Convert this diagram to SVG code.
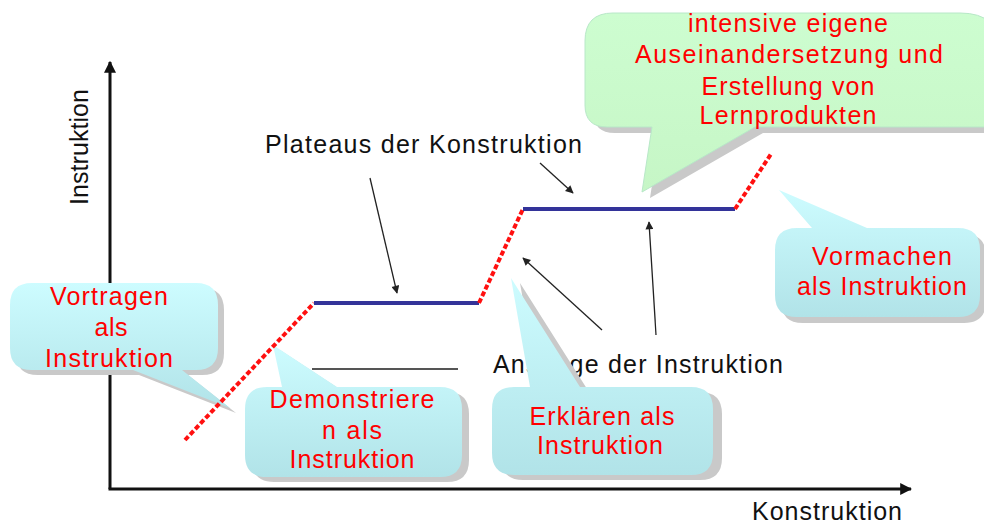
<svg xmlns="http://www.w3.org/2000/svg" width="984" height="524" viewBox="0 0 984 524">
<defs>
<linearGradient id="cyan" x1="0" y1="0" x2="0" y2="1">
<stop offset="0" stop-color="#cdfcff"/>
<stop offset="1" stop-color="#b1e3e8"/>
</linearGradient>
<linearGradient id="green" x1="0" y1="0" x2="0" y2="1">
<stop offset="0" stop-color="#cdfdd0"/>
<stop offset="1" stop-color="#c6f6c6"/>
</linearGradient>
<marker id="axisHead" viewBox="0 0 10 10" refX="9" refY="5" markerWidth="4" markerHeight="4" orient="auto" markerUnits="strokeWidth">
<path d="M0 0 L10 5 L0 10 Z" fill="#111"/>
</marker>
<marker id="arrowHead" viewBox="0 0 10 10" refX="9" refY="5" markerWidth="9" markerHeight="8" orient="auto" markerUnits="userSpaceOnUse">
<path d="M0 0 L10 5 L0 10 Z" fill="#222"/>
</marker>
<style>
.axis{stroke:#111;stroke-width:3;fill:none}
.arr{stroke:#222;stroke-width:1.3;fill:none}
.red{stroke:#ff1010;stroke-width:4;stroke-dasharray:5 2.5;fill:none}
.blue{stroke:#333399;stroke-width:4;fill:none}
.shadow{fill:#c9c9c9}
.cy{fill:url(#cyan)}
.gr{fill:url(#green)}
.lbl{font-family:"Liberation Sans",Arial,sans-serif;font-size:25px;fill:#111}
.rt{font-family:"Liberation Sans",Arial,sans-serif;font-size:25px;fill:#ff0000;text-anchor:middle}
</style>
</defs>
<rect width="984" height="524" fill="#ffffff"/>

<g id="axes">
<line class="axis" x1="110" y1="489" x2="110" y2="62" marker-end="url(#axisHead)"/>
<line class="axis" x1="108.5" y1="489" x2="911" y2="489" marker-end="url(#axisHead)"/>
<text class="lbl" transform="translate(88,205) rotate(-90)" textLength="116" lengthAdjust="spacing">Instruktion</text>
<text class="lbl" x="752" y="520" textLength="150" lengthAdjust="spacing">Konstruktion</text>
</g>

<g id="labels">
<text class="lbl" x="265" y="153" textLength="317" lengthAdjust="spacing">Plateaus der Konstruktion</text>
<text class="lbl" x="493" y="373" textLength="290" lengthAdjust="spacing">Anstiege der Instruktion</text>
<line x1="312" y1="369" x2="458" y2="369" stroke="#555" stroke-width="2"/>
</g>

<g id="connectors">
<line class="arr" x1="370" y1="178" x2="397" y2="293" marker-end="url(#arrowHead)"/>
<line class="arr" x1="540" y1="163" x2="573" y2="193" marker-end="url(#arrowHead)"/>
<line class="arr" x1="602" y1="330" x2="523" y2="258" marker-end="url(#arrowHead)"/>
<line class="arr" x1="656" y1="335" x2="649" y2="222" marker-end="url(#arrowHead)"/>
</g>

<g id="callout-vortragen">
<path class="shadow" transform="translate(6,5)" d="M32 283 H196 Q218 283 218 305 V348 Q218 370 196 370 H182 L230 408 L133 370 H32 Q10 370 10 348 V305 Q10 283 32 283 Z"/>
<path class="cy" d="M32 283 H196 Q218 283 218 305 V348 Q218 370 196 370 H182 L230 408 L133 370 H32 Q10 370 10 348 V305 Q10 283 32 283 Z"/>
<text class="rt" x="109" y="305" textLength="118" lengthAdjust="spacing">Vortragen</text>
<text class="rt" x="111" y="336" textLength="33" lengthAdjust="spacing">als</text>
<text class="rt" x="109" y="367" textLength="128" lengthAdjust="spacing">Instruktion</text>
</g>

<g id="callout-demonstrieren">
<path class="shadow" transform="translate(7,5)" d="M267 387 H282 L273 345 L337 387 H440 Q462 387 462 409 V455 Q462 477 440 477 H267 Q245 477 245 455 V409 Q245 387 267 387 Z"/>
<path class="cy" d="M267 387 H282 L273 345 L337 387 H440 Q462 387 462 409 V455 Q462 477 440 477 H267 Q245 477 245 455 V409 Q245 387 267 387 Z"/>
<text class="rt" x="352" y="408" textLength="165" lengthAdjust="spacing">Demonstriere</text>
<text class="rt" x="352" y="439" textLength="60" lengthAdjust="spacing">n als</text>
<text class="rt" x="352" y="468" textLength="125" lengthAdjust="spacing">Instruktion</text>
</g>

<g id="callout-erklaeren">
<path class="shadow" transform="translate(9,5)" d="M514 387 H530 L511 278 L580 387 H691 Q713 387 713 409 V453 Q713 475 691 475 H514 Q492 475 492 453 V409 Q492 387 514 387 Z"/>
<path class="cy" d="M514 387 H530 L511 278 L580 387 H691 Q713 387 713 409 V453 Q713 475 691 475 H514 Q492 475 492 453 V409 Q492 387 514 387 Z"/>
<text class="rt" x="602" y="425" textLength="145" lengthAdjust="spacing">Erklären als</text>
<text class="rt" x="600" y="454" textLength="126" lengthAdjust="spacing">Instruktion</text>
</g>

<g id="callout-vormachen">
<path class="shadow" transform="translate(6,6)" d="M797 228 H812 L779 190 L867 228 H958 Q980 228 980 250 V295 Q980 317 958 317 H797 Q775 317 775 295 V250 Q775 228 797 228 Z"/>
<path class="cy" d="M797 228 H812 L779 190 L867 228 H958 Q980 228 980 250 V295 Q980 317 958 317 H797 Q775 317 775 295 V250 Q775 228 797 228 Z"/>
<text class="rt" x="882" y="265" textLength="140" lengthAdjust="spacing">Vormachen</text>
<text class="rt" x="882" y="295" textLength="170" lengthAdjust="spacing">als Instruktion</text>
</g>

<g id="callout-intensive">
<path class="shadow" transform="translate(8,6)" d="M613 13 H960 Q1000 13 1000 50 V127 H755 L642 192 L652 127 H607 Q585 127 585 105 V41 Q585 13 613 13 Z"/>
<path class="gr" stroke="#b8e8c8" stroke-width="1" d="M613 13 H960 Q1000 13 1000 50 V127 H755 L642 192 L652 127 H607 Q585 127 585 105 V41 Q585 13 613 13 Z"/>
<text class="rt" x="788" y="32" textLength="200" lengthAdjust="spacing">intensive eigene</text>
<text class="rt" x="789" y="63" textLength="308" lengthAdjust="spacing">Auseinandersetzung und</text>
<text class="rt" x="788" y="95" textLength="173" lengthAdjust="spacing">Erstellung von</text>
<text class="rt" x="788" y="124" textLength="177" lengthAdjust="spacing">Lernprodukten</text>
</g>

<g id="curve">
<line class="red" x1="185" y1="440" x2="314" y2="303"/>
<line class="blue" x1="314" y1="303" x2="479" y2="303"/>
<line class="red" x1="479" y1="303" x2="523" y2="209"/>
<line class="blue" x1="523" y1="209" x2="735" y2="209"/>
<line class="red" x1="735" y1="209" x2="771" y2="154"/>
</g>
</svg>
